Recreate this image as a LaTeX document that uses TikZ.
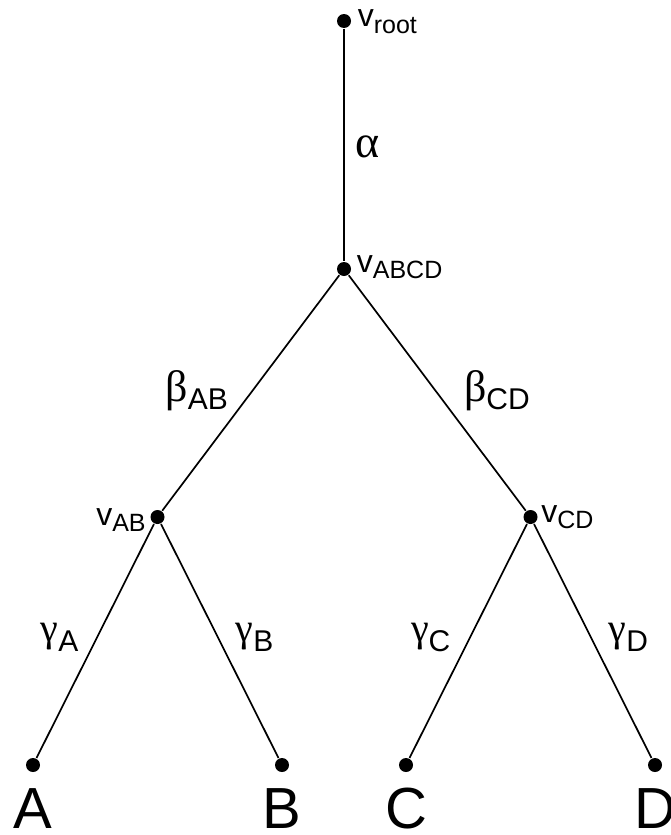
\documentclass[tikz,border=0pt]{standalone}
\usepackage{fontspec}
\setmainfont{Liberation Sans}
\newfontfamily\greekfont{Liberation Serif}
\usetikzlibrary{calc}

% vertex name with a lowered subscript
\newcommand{\vlab}[1]{v\raisebox{-6pt}{\fontsize{25}{25}\selectfont #1}}
% branch length: greek letter (size, glyph) plus subscript
\newcommand{\glab}[4]{{\fontsize{#1}{#1}\greekfont #2}\raisebox{-#3pt}{#4}}

\tikzset{
  dot/.style={circle, fill=black, inner sep=0pt, minimum size=14pt},
  vname/.style={font=\fontsize{32}{32}\selectfont, inner sep=0pt},
  brname/.style={font=\fontsize{30}{30}\selectfont, inner sep=0pt},
  leafname/.style={font=\fontsize{58}{58}\selectfont, inner sep=0pt, anchor=base},
}

\begin{document}
\begin{tikzpicture}[x=1pt, y=-1pt, line width=1.7pt,
    level distance=248pt,
    level 2/.style={sibling distance=373pt},
    level 3/.style={sibling distance=249pt}]
  \useasboundingbox (0,0) rectangle (670,835);

  \node[dot] (root) at (344,21) {}
    child {node[dot] (abcd) {}
      child {node[dot] (ab) {}
        child {node[dot] (a) {}}
        child {node[dot] (b) {}}
      }
      child {node[dot] (cd) {}
        child {node[dot] (c) {}}
        child {node[dot] (d) {}}
      }
    };

  % vertex names
  \node[vname, anchor=base west] (lroot) at ($(root)+(13,6)$) {\vlab{root}};
  \node[vname, anchor=base west] (labcd) at ($(abcd)+(12,3)$) {\vlab{ABCD}};
  \node[vname, anchor=base east] (lab) at ($(ab)+(-11,8)$) {\vlab{AB}};
  \node[vname, anchor=base west] (lcd) at ($(cd)+(10,5)$) {\vlab{CD}};

  % branch lengths
  \node[font=\fontsize{46}{46}\selectfont\greekfont, inner sep=0pt, anchor=base west]
    (alpha) at ($($(root)!0.5!(abcd)$)+(11,12)$) {α};
  \node[brname, anchor=base east] (betaab) at ($($(abcd)!0.5!(ab)$)+(-22,8)$) {\glab{44}{β}{8}{AB}};
  \node[brname, anchor=base west] (betacd) at ($($(abcd)!0.5!(cd)$)+(26,8)$) {\glab{44}{β}{8}{CD}};
  \node[brname, anchor=base east] (gammaa) at ($($(ab)!0.5!(a)$)+(-16,0)$) {\glab{40}{γ}{10}{A}};
  \node[brname, anchor=base west] (gammab) at ($($(ab)!0.5!(b)$)+(15,0)$) {\glab{40}{γ}{10}{B}};
  \node[brname, anchor=base east] (gammac) at ($($(cd)!0.5!(c)$)+(-17,0)$) {\glab{40}{γ}{10}{C}};
  \node[brname, anchor=base west] (gammad) at ($($(cd)!0.5!(d)$)+(15,0)$) {\glab{40}{γ}{10}{D}};

  % leaves
  \node[leafname] (la) at ($(a)+(0,63)$) {A};
  \node[leafname] (lb) at ($(b)+(0,63)$) {B};
  \node[leafname] (lc) at ($(c)+(0,63)$) {C};
  \node[leafname] (ld) at ($(d)+(0,63)$) {D};
\end{tikzpicture}
\end{document}
